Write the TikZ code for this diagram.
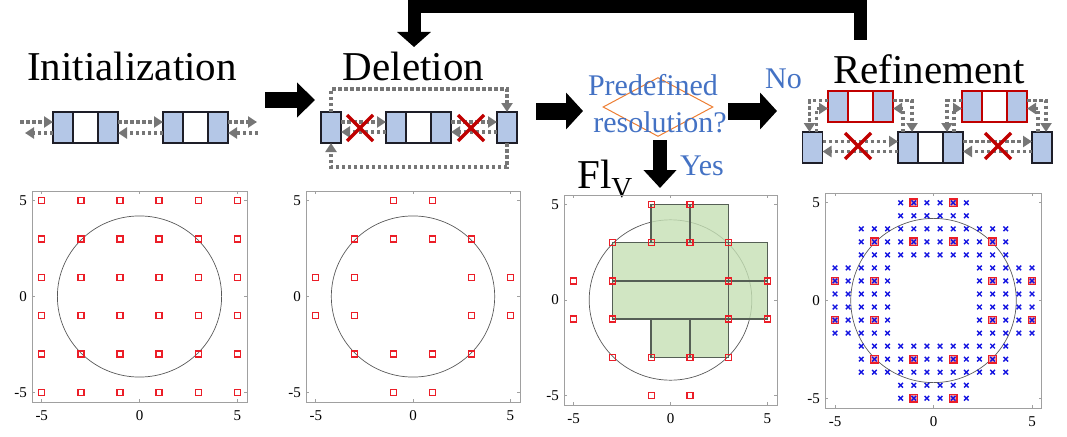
\documentclass[tikz,border=0pt]{standalone}
\usepackage{fontspec}
\setmainfont{Liberation Serif}
\usetikzlibrary{arrows.meta,calc,shapes.geometric}
\definecolor{cellblue}{RGB}{180,199,231}
\definecolor{xred}{RGB}{192,0,0}
\definecolor{dotgray}{RGB}{118,118,118}
\definecolor{txtblue}{RGB}{68,114,196}
\definecolor{dorange}{RGB}{237,125,49}
\definecolor{gfill}{RGB}{197,224,180}
\definecolor{mred}{RGB}{235,30,40}
\definecolor{mblue}{RGB}{20,20,225}
\definecolor{frgray}{RGB}{160,160,160}
\definecolor{boxdark}{RGB}{30,30,40}
\definecolor{gedge}{RGB}{85,95,85}

\newcommand\elem[4]{%
  \node[bcell,draw=#4] (#1-l) at (#2+10,#3) {};
  \node[wcell,draw=#4] (#1-m) at (#2+32.5,#3) {};
  \node[bcell,draw=#4] (#1-r) at (#2+55,#3) {};}
\newcommand\redx[1]{%
  \draw[rx] ($(#1)+(-13,-13)$) -- ($(#1)+(13,13)$);
  \draw[rx] ($(#1)+(-13,13)$) -- ($(#1)+(13,-13)$);}
\newcommand\plotbase{%
  \draw[pframe] (-5.5,-5.5) rectangle (5.5,5.5);
  \foreach \t in {-5,0,5}{
    \draw[pframe] (\t,-5.5) -- ++(0pt,3pt);
    \draw[pframe] (\t,5.5) -- ++(0pt,-3pt);
    \draw[pframe] (-5.5,\t) -- ++(3pt,0pt);
    \draw[pframe] (5.5,\t) -- ++(-3pt,0pt);
    \node[tick,anchor=north,yshift=-8pt] at (\t,-5.5) {\t};
    \node[tick,anchor=east,xshift=-5pt] at (-5.5,\t) {\t};
  }
  \draw[circ] (0,0) circle [radius=4.2];}
\def\pts{-1/5,1/5,-3/3,-1/3,1/3,3/3,-5/1,-3/1,3/1,5/1,-5/-1,-3/-1,3/-1,5/-1,-3/-3,-1/-3,1/-3,3/-3,-1/-5,1/-5}

\begin{document}
\begin{tikzpicture}[x=1pt,y=-1pt,
  bcell/.style={fill=cellblue,line width=1.3pt,minimum width=20pt,minimum height=31pt,inner sep=0pt,outer sep=0pt},
  wcell/.style={fill=white,line width=1.3pt,minimum width=25pt,minimum height=31pt,inner sep=0pt,outer sep=0pt},
  darr/.style={draw=dotgray,line width=3.5pt,dash pattern=on 3.5pt off 2.5pt,-{Triangle[width=11pt,length=9pt]}},
  rx/.style={draw=xred,line width=3.5pt},
  title/.style={font=\fontsize{41}{41}\selectfont,inner sep=0pt,anchor=base},
  btxt/.style={font=\fontsize{30}{30}\selectfont,text=txtblue,inner sep=0pt,anchor=base},
  barr/.style={draw=black,line width=#1,line join=miter},
  pframe/.style={draw=frgray,line width=0.8pt},
  tick/.style={font=\fontsize{15}{15}\selectfont,inner sep=0pt},
  circ/.style={draw=black!65,line width=0.7pt},
  msq/.style={draw=mred,line width=1.3pt},
  msqf/.style={draw=mred,fill=mred!45,line width=1.2pt},
  bx/.style={draw=mblue,line width=1.4pt},
  gbox/.style={fill=gfill,fill opacity=0.8,draw=gedge,line width=1.5pt}
]
\useasboundingbox (0,0) rectangle (1067,436);

% ---------- titles ----------
\node[title] (tInit) at (132,80) {Initialization};
\node[title] (tDel) at (413.5,80) {Deletion};
\node[title] (tRef) at (929,83) {Refinement};

% ---------- thick black arrows ----------
\coordinate (a1s) at (265,100); \coordinate (a1e) at (315,100);
\draw[barr=16pt,-{Triangle[width=34pt,length=18pt]}] (a1s) -- (a1e);
\coordinate (a2s) at (536,111); \coordinate (a2e) at (583,111);
\draw[barr=17pt,-{Triangle[width=36pt,length=17pt]}] (a2s) -- (a2e);
\coordinate (a3s) at (728,111); \coordinate (a3e) at (777,111);
\draw[barr=17pt,-{Triangle[width=36pt,length=17pt]}] (a3s) -- (a3e);
\coordinate (a4s) at (660,140); \coordinate (a4e) at (660,188);
\draw[barr=14pt,-{Triangle[width=32pt,length=18pt]}] (a4s) -- (a4e);
\coordinate (fbs) at (860,40); \coordinate (fbm) at (640,6.5); \coordinate (fbe) at (414,47);
\draw[barr=13pt,-{Triangle[width=33pt,length=15pt]}] (fbs) |- (fbm) -| (fbe);

% ---------- Initialization ----------
\elem{iA}{53}{127.5}{boxdark}
\elem{iB}{163}{127.5}{boxdark}
\coordinate (i0u) at (20,122); \coordinate (i0d) at (25,133);
\coordinate (i3u) at (257,122); \coordinate (i3d) at (258,133);
\draw[darr] (i0u) -- ([yshift=5.5pt]iA-l.west);
\draw[darr] ([yshift=-5.5pt]iA-l.west) -- (i0d);
\draw[darr] ([yshift=5.5pt]iA-r.east) -- ([yshift=5.5pt]iB-l.west);
\draw[darr] ([yshift=-5.5pt]iB-l.west) -- ([yshift=-5.5pt]iA-r.east);
\draw[darr] ([yshift=5.5pt]iB-r.east) -- (i3u);
\draw[darr] (i3d) -- ([yshift=-5.5pt]iB-r.east);

% ---------- Deletion ----------
\node[bcell,draw=boxdark] (dL) at (331,127.5) {};
\elem{dM}{386}{127.5}{boxdark}
\node[bcell,draw=boxdark] (dR) at (507,127.5) {};
\draw[darr] ([yshift=5.5pt]dL.east) -- ([yshift=5.5pt]dM-l.west);
\draw[darr] ([yshift=-4.5pt]dM-l.west) -- ([yshift=-4.5pt]dL.east);
\draw[darr] ([yshift=5.5pt]dM-r.east) -- ([yshift=5.5pt]dR.west);
\draw[darr] ([yshift=-4.5pt]dR.west) -- ([yshift=-4.5pt]dM-r.east);
\coordinate (dTop) at (420,89); \coordinate (dBot) at (420,167);
\draw[darr] (dL.north) |- (dTop) -| (dR.north);
\draw[darr] (dR.south) |- (dBot) -| (dL.south);
\coordinate (dx1) at (360,128); \coordinate (dx2) at (471,128);
\redx{dx1}
\redx{dx2}

% ---------- decision ----------
\node[diamond,draw=dorange,line width=1pt,minimum width=110pt,minimum height=59pt,aspect=1.86,inner sep=0pt] (dia) at (658,107) {};
\node[btxt] (q1) at (653,95) {Predefined};
\node[btxt] (q2) at (660,132) {resolution?};
\node[btxt,anchor=base west] (no) at (765,88) {No};
\node[btxt,anchor=base west] (yes) at (680,175) {Yes};
\node[font=\fontsize{41}{41}\selectfont,inner sep=0pt,anchor=base west] (flv) at (577,188) {Fl\raisebox{-9pt}{\fontsize{29}{29}\selectfont V}};

% ---------- Refinement ----------
\elem{rA}{828}{106.5}{xred}
\elem{rB}{962}{106.5}{xred}
\node[bcell,draw=boxdark] (bL) at (812.5,147.5) {};
\elem{bM}{898}{147.5}{boxdark}
\node[bcell,draw=boxdark] (bR) at (1042,147.5) {};
\draw[darr] ([yshift=6pt]bL.east) -- ([yshift=6pt]bM-l.west);
\draw[darr] ([yshift=-4pt]bM-l.west) -- ([yshift=-4pt]bL.east);
\draw[darr] ([yshift=6pt]bM-r.east) -- ([yshift=6pt]bR.west);
\draw[darr] ([yshift=-4pt]bR.west) -- ([yshift=-4pt]bM-r.east);
\coordinate (bx1) at (858,146); \coordinate (bx2) at (998,146);
\redx{bx1}
\redx{bx2}
% loops
\draw[darr] ([yshift=6pt]rA-l.west) -| ([xshift=-3pt]bL.north);
\draw[darr] ([xshift=4pt]bL.north) |- ([yshift=-2pt]rA-l.west);
\draw[darr] ([yshift=6pt]rA-r.east) -| ([xshift=4pt]bM-l.north);
\draw[darr] ([xshift=-5pt]bM-l.north) |- ([yshift=-2pt]rA-r.east);
\draw[darr] ([yshift=6pt]rB-l.west) -| ([xshift=-6pt]bM-r.north);
\draw[darr] ([xshift=1pt]bM-r.north) |- ([yshift=-2pt]rB-l.west);
\draw[darr] ([yshift=6pt]rB-r.east) -| ([xshift=4pt]bR.north);
\draw[darr] ([xshift=-4pt]bR.north) |- ([yshift=-2pt]rB-r.east);

% ---------- plot 1 ----------
\begin{scope}[shift={(139.5,296.5)},x=19.55pt,y=19.18pt]
  \plotbase
  \foreach \i in {-5,-3,...,5}{\foreach \j in {-5,-3,...,5}{
    \draw[msq] (\i,\j) ++(-3pt,-3pt) rectangle ++(6pt,6pt);}}
\end{scope}

% ---------- plot 2 ----------
\begin{scope}[shift={(413,296.5)},x=19.45pt,y=19.18pt]
  \plotbase
  \foreach \i/\j in \pts {\draw[msq] (\i,\j) ++(-3pt,-3pt) rectangle ++(6pt,6pt);}
\end{scope}

% ---------- plot 3 ----------
\begin{scope}[shift={(670.5,300)},x=19.36pt,y=19.09pt]
  \plotbase
  \draw[gbox] (-1,3) rectangle (1,5);
  \draw[gbox] (1,3) rectangle (3,5);
  \draw[gbox] (-3,1) rectangle (3,3);
  \draw[gbox] (3,1) rectangle (5,3);
  \draw[gbox] (-3,-1) rectangle (3,1);
  \draw[gbox] (3,-1) rectangle (5,1);
  \draw[gbox] (-1,-3) rectangle (1,-1);
  \draw[gbox] (1,-3) rectangle (3,-1);
  \foreach \i/\j in \pts {\draw[msq] (\i,\j) ++(-3pt,-3pt) rectangle ++(6pt,6pt);}
\end{scope}

% ---------- plot 4 ----------
\begin{scope}[shift={(933.5,300.5)},x=19.7pt,y=19.55pt]
  \plotbase
  \foreach \i/\j in \pts {\draw[msqf] (\i,\j) ++(-3.8pt,-3.8pt) rectangle ++(7.6pt,7.6pt);}
  \foreach \i in {-15,-13,...,15}{\foreach \j in {-15,-13,...,15}{
    \pgfmathtruncatemacro\ok{((abs(\j)>=13)&&(abs(\i)<=5)) || ((abs(\j)>=7)&&(abs(\j)<=11)&&(abs(\i)<=11)) || ((abs(\j)<=5)&&(abs(\i)>=7)) ? 1 : 0}
    \ifnum\ok=1
      \draw[bx] (\i/3,\j/3) ++(-2.3pt,-2.3pt) -- ++(4.6pt,4.6pt) ++(0pt,-4.6pt) -- ++(-4.6pt,4.6pt);
    \fi}}
\end{scope}
\end{tikzpicture}
\end{document}
